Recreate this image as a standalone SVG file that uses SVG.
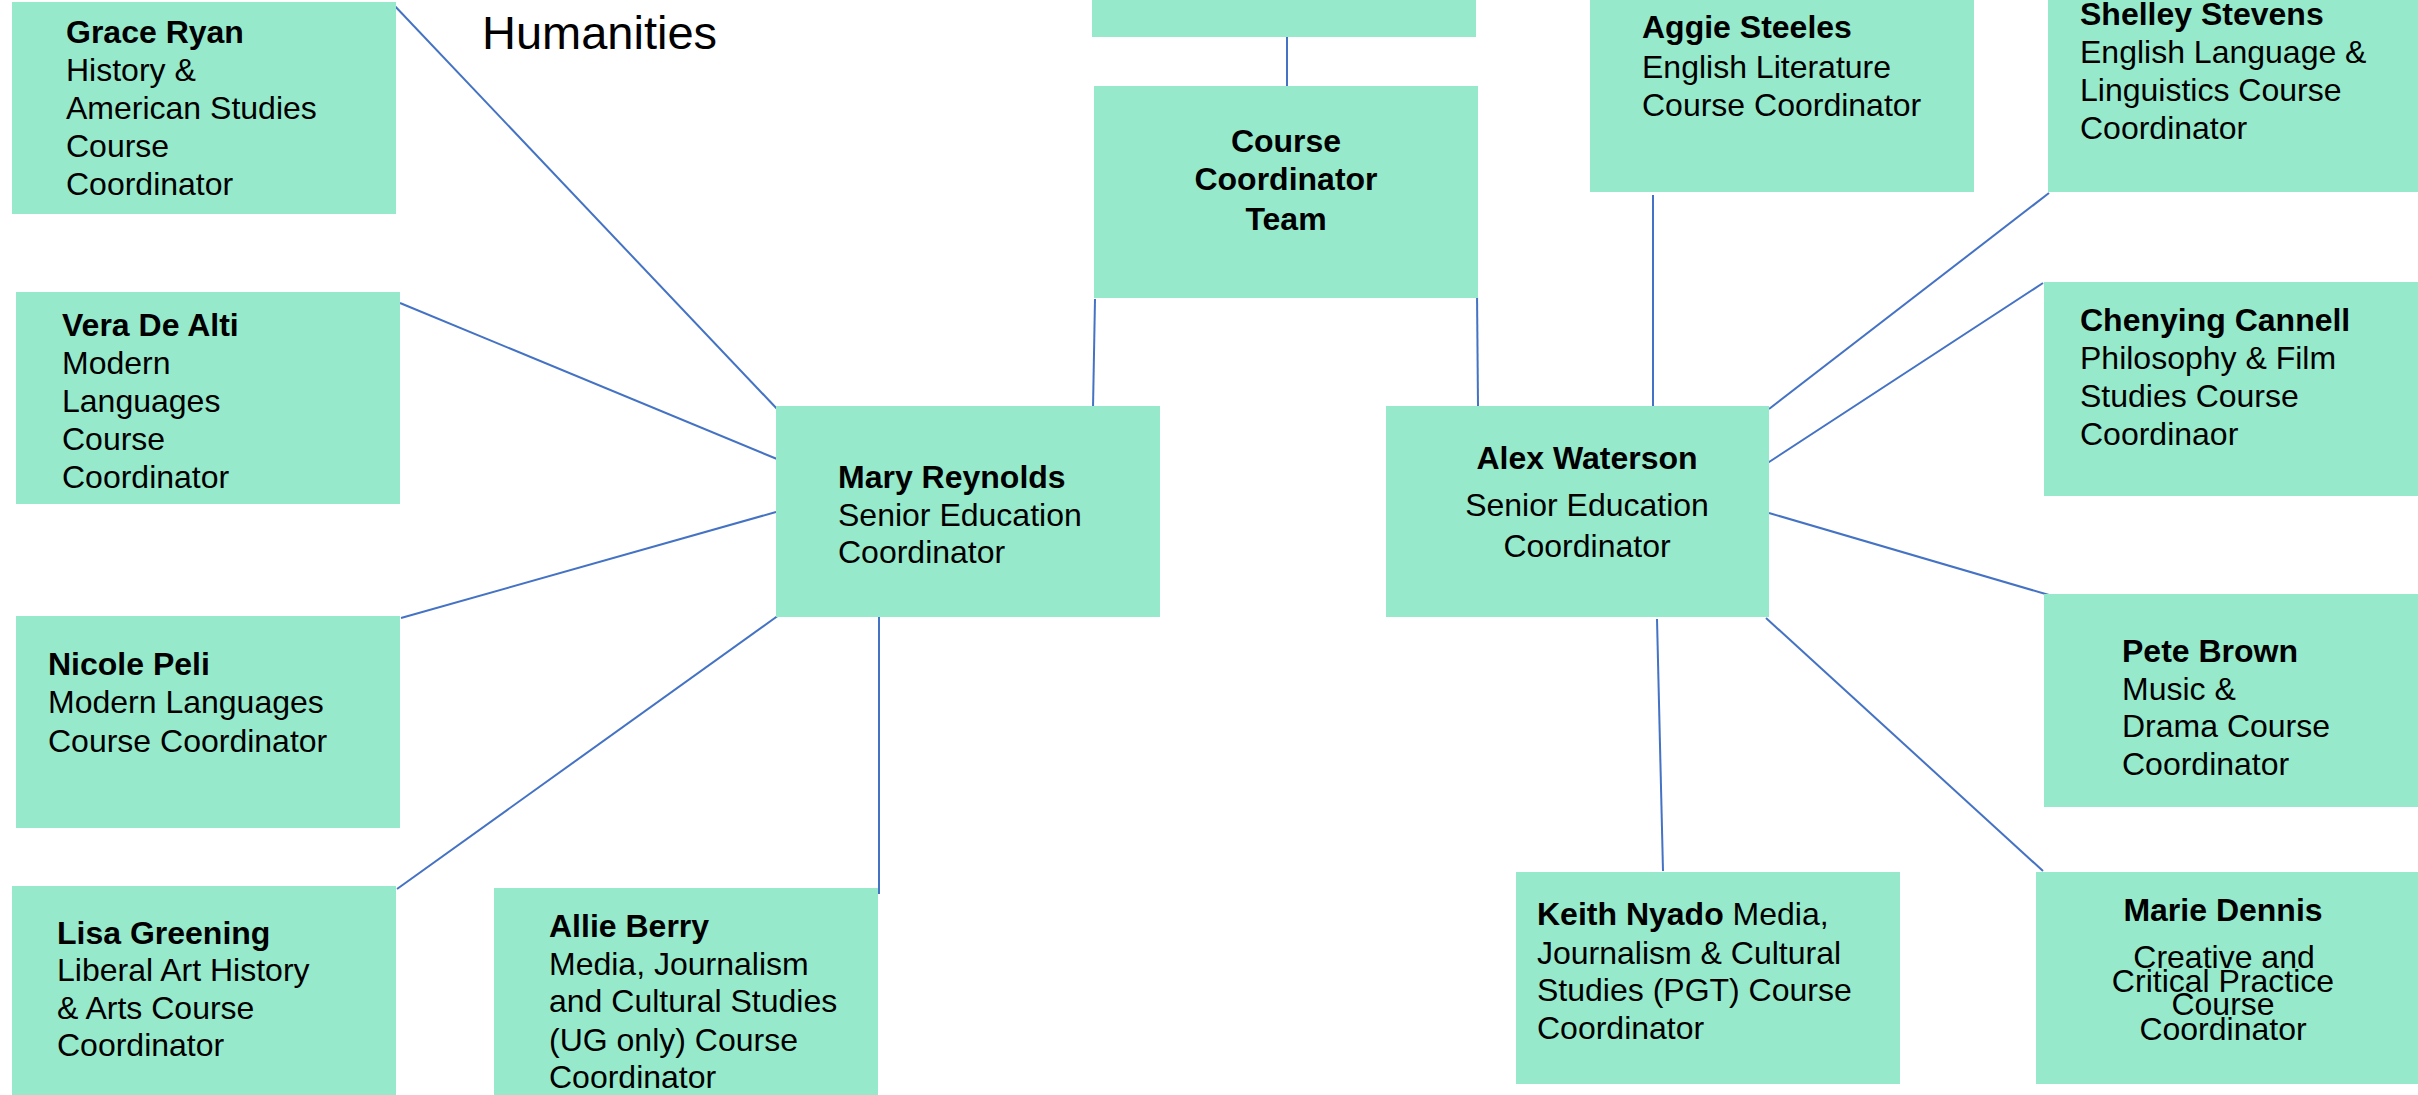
<svg xmlns="http://www.w3.org/2000/svg" width="2418" height="1095" viewBox="0 0 2418 1095">
<style>
.box{fill:#96EACB;}
.t{font-family:"Liberation Sans",Arial,sans-serif;font-size:32px;fill:#000;}
.b{font-weight:bold;}
.c{text-anchor:middle;}
.ln{stroke:#4472C4;stroke-width:2;fill:none;}
</style>
<rect width="2418" height="1095" fill="#fff"/>
<g id="connectors">
<line class="ln" x1="1287" y1="31" x2="1287" y2="87"/>
<line class="ln" x1="1095" y1="299" x2="1093" y2="408"/>
<line class="ln" x1="1477" y1="293" x2="1478" y2="406"/>
<line class="ln" x1="392" y1="3" x2="779" y2="411"/>
<line class="ln" x1="400" y1="303" x2="777" y2="459"/>
<line class="ln" x1="401" y1="618" x2="776" y2="512"/>
<line class="ln" x1="397" y1="889" x2="779" y2="615"/>
<line class="ln" x1="879" y1="617" x2="879" y2="894"/>
<line class="ln" x1="1653" y1="195" x2="1653" y2="407"/>
<line class="ln" x1="2049" y1="193" x2="1769" y2="409"/>
<line class="ln" x1="2043" y1="283" x2="1766" y2="464"/>
<line class="ln" x1="1769" y1="513" x2="2049" y2="595"/>
<line class="ln" x1="1657" y1="619" x2="1663" y2="871"/>
<line class="ln" x1="1766" y1="618" x2="2043" y2="871"/>
</g>
<text class="t" x="482" y="49" style="font-size:47px">Humanities</text>
<g id="top">
<rect class="box" x="1092" y="-2" width="384" height="39"/>
</g>
<g id="team">
<rect class="box" x="1094" y="86" width="384" height="212"/>
<text class="t b c" x="1286" y="152">Course</text>
<text class="t b c" x="1286" y="190">Coordinator</text>
<text class="t b c" x="1286" y="230">Team</text>
</g>
<g id="grace">
<rect class="box" x="12" y="2" width="384" height="212"/>
<text class="t b" x="66" y="43">Grace Ryan</text>
<text class="t" x="66" y="81">History &amp;</text>
<text class="t" x="66" y="119">American Studies</text>
<text class="t" x="66" y="157">Course</text>
<text class="t" x="66" y="195">Coordinator</text>
</g>
<g id="vera">
<rect class="box" x="16" y="292" width="384" height="212"/>
<text class="t b" x="62" y="336">Vera De Alti</text>
<text class="t" x="62" y="374">Modern</text>
<text class="t" x="62" y="412">Languages</text>
<text class="t" x="62" y="450">Course</text>
<text class="t" x="62" y="488">Coordinator</text>
</g>
<g id="nicole">
<rect class="box" x="16" y="616" width="384" height="212"/>
<text class="t b" x="48" y="675">Nicole Peli</text>
<text class="t" x="48" y="713">Modern Languages</text>
<text class="t" x="48" y="752">Course Coordinator</text>
</g>
<g id="lisa">
<rect class="box" x="12" y="886" width="384" height="215"/>
<text class="t b" x="57" y="944">Lisa Greening</text>
<text class="t" x="57" y="981">Liberal Art History</text>
<text class="t" x="57" y="1019">&amp; Arts Course</text>
<text class="t" x="57" y="1056">Coordinator</text>
</g>
<g id="allie">
<rect class="box" x="494" y="888" width="384" height="215"/>
<text class="t b" x="549" y="937">Allie Berry</text>
<text class="t" x="549" y="975">Media, Journalism</text>
<text class="t" x="549" y="1012">and Cultural Studies</text>
<text class="t" x="549" y="1051">(UG only) Course</text>
<text class="t" x="549" y="1088">Coordinator</text>
</g>
<g id="mary">
<rect class="box" x="776" y="406" width="384" height="211"/>
<text class="t b" x="838" y="488">Mary Reynolds</text>
<text class="t" x="838" y="526">Senior Education</text>
<text class="t" x="838" y="563">Coordinator</text>
</g>
<g id="alex">
<rect class="box" x="1386" y="406" width="383" height="211"/>
<text class="t b c" x="1587" y="469">Alex Waterson</text>
<text class="t c" x="1587" y="516">Senior Education</text>
<text class="t c" x="1587" y="557">Coordinator</text>
</g>
<g id="aggie">
<rect class="box" x="1590" y="-2" width="384" height="194"/>
<text class="t b" x="1642" y="38">Aggie Steeles</text>
<text class="t" x="1642" y="78">English Literature</text>
<text class="t" x="1642" y="116">Course Coordinator</text>
</g>
<g id="shelley">
<rect class="box" x="2048" y="-2" width="380" height="194"/>
<text class="t b" x="2080" y="25">Shelley Stevens</text>
<text class="t" x="2080" y="63">English Language &amp;</text>
<text class="t" x="2080" y="101">Linguistics Course</text>
<text class="t" x="2080" y="139">Coordinator</text>
</g>
<g id="chenying">
<rect class="box" x="2044" y="282" width="384" height="214"/>
<text class="t b" x="2080" y="331">Chenying Cannell</text>
<text class="t" x="2080" y="369">Philosophy &amp; Film</text>
<text class="t" x="2080" y="407">Studies Course</text>
<text class="t" x="2080" y="445">Coordinaor</text>
</g>
<g id="pete">
<rect class="box" x="2044" y="594" width="384" height="213"/>
<text class="t b" x="2122" y="662">Pete Brown</text>
<text class="t" x="2122" y="700">Music &amp;</text>
<text class="t" x="2122" y="737">Drama Course</text>
<text class="t" x="2122" y="775">Coordinator</text>
</g>
<g id="keith">
<rect class="box" x="1516" y="872" width="384" height="212"/>
<text class="t" x="1537" y="925"><tspan class="b">Keith Nyado</tspan> Media,</text>
<text class="t" x="1537" y="964">Journalism &amp; Cultural</text>
<text class="t" x="1537" y="1001">Studies (PGT) Course</text>
<text class="t" x="1537" y="1039">Coordinator</text>
</g>
<g id="marie">
<rect class="box" x="2036" y="872" width="392" height="212"/>
<text class="t b c" x="2223" y="921">Marie Dennis</text>
<text class="t c" x="2224" y="968">Creative and</text>
<text class="t c" x="2223" y="992">Critical Practice</text>
<text class="t c" x="2223" y="1015">Course</text>
<text class="t c" x="2223" y="1040">Coordinator</text>
</g>
</svg>
